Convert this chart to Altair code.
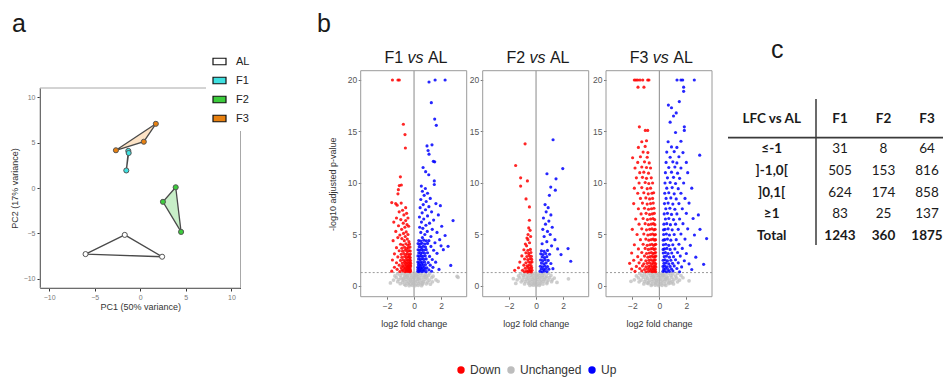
import altair as alt
import pandas as pd

FONT = "Liberation Sans"
TFONT = "Lato"
W, H = 935, 371

# ---------------- panel a : PCA ----------------
PCA_GROUP = ["AL", "AL", "AL", "F1", "F1", "F1", "F2", "F2", "F2", "F3", "F3", "F3"]
PCA_PC1 = [-1.7, -6.0, 2.4, -1.31, -1.27, -1.53, 3.89, 2.49, 4.48, 1.71, 0.39, -2.67]
PCA_PC2 = [-5.16, -7.27, -7.56, 4.08, 3.85, 1.93, 0.08, -1.52, -4.83, 7.06, 5.09, 4.15]
GROUPS = ["AL", "F1", "F2", "F3"]
GROUP_FILL = ["#ffffff", "#3fe0e0", "#3ccc3c", "#e8800f"]
HULL_FILL = ["#ffffff", "#c8f4f4", "#c8efc8", "#fde3c6"]
HULL_OPACITY = [0, 1, 1, 1]

# ---------------- panel b : volcano plots ----------------
STATUS = ["Down", "Unchanged", "Up"]
STATUS_COLORS = ["#ff0000", "#bdbdbd", "#0000ff"]

F1_DOWN = [(-1.60, 20.0), (-1.19, 20.0), (-1.09, 20.0), (-0.79, 15.7), (-0.67, 14.7), (-0.64, 13.4), (-1.01, 10.6),
           (-1.09, 9.75), (-0.94, 9.8), (-1.16, 9.35), (-1.19, 8.95), (-1.65, 8.1), (-1.36, 8.0),
           (-1.25, 7.85), (-0.95, 8.05), (-0.62, 7.6), (-0.85, 7.35), (-1.1, 7.2), (-0.55, 7.05), (-0.75, 6.9),
           (-1.3, 6.6), (-0.98, 6.45), (-0.62, 6.35), (-0.45, 6.6), (-1.5, 6.2), (-0.8, 6.1), (-0.52, 5.95),
           (-1.15, 5.85), (-0.68, 5.7), (-0.4, 5.8), (-0.92, 5.5), (-1.35, 5.3), (-0.58, 5.25), (-0.78, 5.1),
           (-1.05, 4.95), (-0.45, 5.0), (-0.65, 4.8), (-1.2, 4.7), (-0.9, 4.6), (-0.5, 4.55), (-1.55, 4.4),
           (-0.72, 4.4), (-0.38, 4.3),
           (-1.0, 4.05), (-0.82, 3.98), (-0.6, 4.1), (-0.45, 3.95), (-0.33, 4.08),
           (-1.3, 3.72), (-0.9, 3.66), (-0.7, 3.75), (-0.55, 3.62), (-0.42, 3.7), (-0.3, 3.78),
           (-1.1, 3.42), (-0.85, 3.38), (-0.65, 3.47), (-0.5, 3.35), (-0.38, 3.44), (-0.28, 3.4),
           (-1.45, 3.12), (-0.95, 3.08), (-0.75, 3.15), (-0.6, 3.05), (-0.48, 3.12), (-0.35, 3.02), (-0.27, 3.1),
           (-1.2, 2.82), (-0.9, 2.78), (-0.7, 2.86), (-0.57, 2.75), (-0.45, 2.84), (-0.36, 2.8), (-0.28, 2.76),
           (-1.6, 2.52), (-1.0, 2.48), (-0.8, 2.55), (-0.65, 2.46), (-0.52, 2.53), (-0.42, 2.49), (-0.33, 2.56), (-0.26, 2.47),
           (-1.3, 2.26), (-0.88, 2.22), (-0.72, 2.3), (-0.6, 2.2), (-0.5, 2.27), (-0.4, 2.23), (-0.31, 2.29), (-0.25, 2.21),
           (-1.1, 2.02), (-0.85, 1.98), (-0.68, 2.05), (-0.55, 1.96), (-0.46, 2.03), (-0.38, 1.99), (-0.3, 2.06), (-0.25, 1.95),
           (-1.45, 1.82), (-0.95, 1.78), (-0.78, 1.84), (-0.64, 1.76), (-0.53, 1.83), (-0.44, 1.79), (-0.36, 1.85), (-0.29, 1.77),
           (-1.25, 1.62), (-0.9, 1.58), (-0.72, 1.64), (-0.6, 1.56), (-0.5, 1.63), (-0.41, 1.59), (-0.33, 1.65), (-0.27, 1.57),
           (-1.65, 1.44), (-1.05, 1.4), (-0.82, 1.46), (-0.67, 1.38), (-0.55, 1.45), (-0.46, 1.41), (-0.38, 1.47),
           (-0.31, 1.39), (-0.26, 1.44)]
F1_UP = [(1.11, 19.8), (1.56, 20.0), (2.30, 20.0), (1.28, 17.8), (1.53, 16.2), (1.65, 15.6), (0.96, 13.6), (1.33, 13.7),
         (1.04, 13.15), (1.11, 12.8), (1.53, 12.05), (1.43, 12.1), (0.67, 11.5), (0.86, 11.1), (1.09, 10.8), (1.5, 10.2),
         (1.5, 9.85), (0.54, 9.7), (0.84, 9.46), (2.89, 6.35), (1.95, 7.8), (2.72, 2.0), (2.52, 3.85), (2.17, 3.53),
         (0.62, 9.2), (1.0, 9.0), (0.75, 8.8), (1.2, 8.5), (0.5, 8.4), (0.9, 8.2), (1.62, 8.0), (0.68, 7.9), (1.1, 7.7),
         (0.45, 7.6), (0.85, 7.4), (1.3, 7.2), (0.6, 7.1), (1.8, 6.9), (1.0, 6.8), (0.4, 6.7), (0.72, 6.5), (1.45, 6.4),
         (0.55, 6.2), (1.15, 6.1), (0.88, 5.9), (2.05, 5.8), (0.42, 5.7), (0.65, 5.6), (1.35, 5.5), (1.7, 5.2),
         (0.98, 5.3), (0.5, 5.2), (2.3, 4.9), (0.8, 5.0), (1.25, 4.8), (1.9, 4.5), (0.62, 4.7), (1.55, 4.2), (2.0, 3.9),
         (1.1, 4.4),
         (0.35, 4.42), (0.5, 4.36), (0.72, 4.45), (0.9, 4.38),
         (0.3, 4.12), (0.45, 4.06), (0.6, 4.15), (0.8, 4.08), (1.0, 4.13),
         (0.38, 3.82), (0.52, 3.76), (0.68, 3.85), (0.85, 3.78), (1.25, 3.84),
         (0.3, 3.52), (0.43, 3.46), (0.57, 3.55), (0.72, 3.48), (0.9, 3.53), (1.45, 3.47),
         (0.35, 3.22), (0.48, 3.16), (0.62, 3.25), (0.78, 3.18), (1.0, 3.23), (1.7, 3.17),
         (0.29, 2.92), (0.4, 2.86), (0.53, 2.95), (0.67, 2.88), (0.83, 2.93), (1.15, 2.87),
         (0.33, 2.62), (0.45, 2.56), (0.58, 2.65), (0.72, 2.58), (0.9, 2.63), (1.35, 2.57),
         (0.28, 2.32), (0.38, 2.26), (0.5, 2.35), (0.63, 2.28), (0.78, 2.33), (1.05, 2.27), (1.6, 2.31),
         (0.32, 2.07), (0.43, 2.01), (0.55, 2.1), (0.68, 2.03), (0.85, 2.08), (1.2, 2.02),
         (0.28, 1.82), (0.37, 1.76), (0.48, 1.85), (0.6, 1.78), (0.75, 1.83), (0.95, 1.77), (1.4, 1.81),
         (0.3, 1.62), (0.41, 1.56), (0.52, 1.65), (0.65, 1.58), (0.82, 1.63), (1.1, 1.57), (1.85, 1.61),
         (0.28, 1.44), (0.36, 1.38), (0.46, 1.47), (0.58, 1.4), (0.72, 1.45), (0.9, 1.39), (1.3, 1.43)]
F1_NS = [(-1.22, 1.18), (-0.88, 1.22), (-0.62, 1.15), (-0.36, 1.24), (-0.14, 1.17), (0.1, 1.23), (0.31, 1.16), (0.56, 1.21),
         (0.84, 1.14), (1.16, 1.2), (-1.42, 0.98), (-1.02, 1.04), (-0.71, 0.97), (-0.47, 1.05), (-0.22, 0.99), (0.04, 1.02),
         (0.24, 0.96), (0.49, 1.04), (0.76, 0.98), (1.06, 1.03), (1.41, 0.95), (-1.31, 0.82), (-0.97, 0.78), (-0.66, 0.84),
         (-0.41, 0.77), (-0.19, 0.83), (0.01, 0.79), (0.21, 0.85), (0.43, 0.78), (0.69, 0.83), (0.96, 0.77), (1.31, 0.81),
         (-1.52, 0.58), (-1.12, 0.63), (-0.81, 0.57), (-0.56, 0.62), (-0.31, 0.59), (-0.09, 0.64), (0.11, 0.58), (0.31, 0.63),
         (0.56, 0.57), (0.81, 0.62), (1.12, 0.56), (1.62, 0.6), (-1.21, 0.42), (-0.86, 0.38), (-0.61, 0.43), (-0.39, 0.37),
         (-0.16, 0.41), (0.06, 0.39), (0.26, 0.44), (0.46, 0.36), (0.71, 0.42), (1.01, 0.38), (1.36, 0.41), (-1.02, 0.22),
         (-0.71, 0.18), (-0.46, 0.23), (-0.26, 0.17), (-0.06, 0.21), (0.16, 0.19), (0.36, 0.24), (0.61, 0.17), (0.91, 0.21),
         (1.21, 0.18), (-0.62, 0.06), (-0.36, 0.03), (-0.13, 0.07), (0.09, 0.04), (0.31, 0.06), (0.56, 0.03),
         (3.19, 0.94), (3.26, 0.84), (1.78, 0.45), (-1.75, 0.3), (-0.5, 0.9), (0.35, 0.7), (-0.25, 0.5), (0.15, 1.1),
         (-0.05, 0.3), (0.65, 0.3), (-0.8, 0.7), (0.9, 0.9)]

F2_DOWN = [(-0.81, 13.8), (-1.51, 11.7), (-1.14, 10.5), (-1.14, 9.7), (-0.64, 10.2), (-0.74, 8.45), (-0.49, 7.68),
           (-0.49, 6.38), (-0.54, 5.64), (-0.44, 5.4), (-0.59, 5.0), (-0.67, 4.66), (-0.79, 4.08), (-0.48, 4.2),
           (-1.58, 1.52), (-0.6, 4.5), (-0.4, 4.8), (-0.7, 3.9),
           (-0.9, 3.52), (-0.6, 3.46), (-0.42, 3.55), (-0.75, 3.22), (-0.55, 3.16), (-0.38, 3.25),
           (-1.05, 2.92), (-0.68, 2.86), (-0.5, 2.95), (-0.35, 2.88), (-0.85, 2.62), (-0.62, 2.56), (-0.45, 2.65),
           (-0.32, 2.58), (-1.2, 2.32), (-0.75, 2.26), (-0.55, 2.35), (-0.4, 2.28), (-0.3, 2.33),
           (-0.9, 2.02), (-0.66, 1.96), (-0.5, 2.05), (-0.37, 1.98), (-1.3, 1.77), (-0.8, 1.72), (-0.6, 1.8),
           (-0.45, 1.73), (-0.32, 1.78), (-1.0, 1.52), (-0.7, 1.47), (-0.52, 1.55), (-0.4, 1.48), (-0.3, 1.53),
           (-0.85, 1.38), (-0.62, 1.35), (-0.47, 1.4), (-0.35, 1.36)]
F2_UP = [(1.26, 14.2), (1.98, 11.4), (0.81, 10.9), (1.48, 10.4), (1.09, 9.6), (1.43, 9.3), (0.99, 8.8), (0.67, 7.9),
         (0.9, 7.6), (2.37, 3.63), (2.57, 2.4), (1.85, 3.05), (0.75, 7.2), (1.1, 6.9), (0.55, 6.6), (0.95, 6.3),
         (0.7, 6.0), (1.2, 5.7), (0.5, 5.5), (0.85, 5.3), (1.05, 5.0), (0.6, 4.8), (1.4, 4.5), (0.8, 4.3), (0.45, 4.1),
         (1.6, 3.6), (1.15, 3.9),
         (0.4, 3.42), (0.6, 3.36), (0.85, 3.45), (0.35, 3.12), (0.52, 3.06), (0.72, 3.15), (1.0, 3.08),
         (0.45, 2.82), (0.62, 2.76), (0.8, 2.85), (0.33, 2.52), (0.5, 2.46), (0.68, 2.55), (0.9, 2.48),
         (0.4, 2.22), (0.58, 2.16), (0.75, 2.25), (1.1, 2.18), (0.32, 1.92), (0.48, 1.86), (0.65, 1.95), (0.85, 1.88),
         (0.38, 1.67), (0.55, 1.62), (0.72, 1.7), (0.95, 1.63), (1.25, 1.68), (0.3, 1.44), (0.45, 1.38), (0.62, 1.46),
         (0.8, 1.4)]
F2_NS = [(-1.15, 1.2), (-0.82, 1.16), (-0.55, 1.23), (-0.3, 1.17), (-0.1, 1.22), (0.12, 1.15), (0.35, 1.21), (0.6, 1.18),
         (0.9, 1.24), (-1.3, 0.97), (-0.95, 1.02), (-0.66, 0.96), (-0.42, 1.04), (-0.2, 0.98), (0.03, 1.03), (0.25, 0.97),
         (0.5, 1.01), (0.78, 0.95), (1.1, 1.02), (-1.2, 0.78), (-0.9, 0.83), (-0.6, 0.77), (-0.37, 0.82), (-0.15, 0.76),
         (0.05, 0.81), (0.27, 0.79), (0.48, 0.84), (0.72, 0.78), (1.0, 0.82), (1.35, 0.77), (-1.4, 0.6), (-1.0, 0.57),
         (-0.72, 0.62), (-0.48, 0.56), (-0.25, 0.61), (-0.05, 0.58), (0.15, 0.63), (0.38, 0.57), (0.62, 0.61), (0.9, 0.56),
         (1.2, 0.6), (-1.1, 0.4), (-0.78, 0.43), (-0.52, 0.38), (-0.3, 0.42), (-0.1, 0.37), (0.1, 0.41), (0.32, 0.39),
         (0.55, 0.44), (0.82, 0.38), (1.15, 0.42), (-0.85, 0.2), (-0.55, 0.23), (-0.32, 0.18), (-0.12, 0.22), (0.08, 0.17),
         (0.3, 0.21), (0.52, 0.19), (0.8, 0.23), (-0.45, 0.05), (-0.2, 0.08), (0.02, 0.04), (0.25, 0.07),
         (-1.68, 0.71), (2.4, 0.7), (1.55, 0.35), (-1.5, 0.25)]

F3_DOWN = [(-1.85, 20.0), (-1.73, 20.0), (-1.6, 20.0), (-1.43, 20.0), (-1.23, 20.0), (-0.86, 20.0), (-0.77, 20.0),
           (-1.58, 19.3), (-1.14, 19.3), (-1.48, 15.45), (-1.04, 15.1), (-0.86, 15.1),
           (-1.3, 14.0), (-0.95, 14.1), (-1.55, 13.45), (-1.05, 13.55), (-1.2, 13.0), (-0.85, 12.95), (-1.98, 12.45),
           (-1.4, 12.55), (-0.9, 12.5), (-1.6, 12.0), (-1.1, 12.05), (-0.75, 11.95), (-1.8, 11.45), (-1.3, 11.55),
           (-0.95, 11.5), (-0.65, 11.45), (-1.45, 11.0), (-1.15, 11.05), (-0.8, 10.95), (-1.7, 10.5), (-1.25, 10.55),
           (-0.95, 10.45), (-0.6, 10.5), (-1.5, 10.0), (-1.05, 10.05), (-0.78, 9.95), (-0.5, 10.0), (-1.85, 9.5),
           (-1.3, 9.55), (-0.9, 9.45), (-0.65, 9.5), (-1.6, 9.0), (-1.15, 9.05), (-0.82, 8.95), (-0.55, 9.0),
           (-0.42, 9.05), (-1.4, 8.5), (-1.0, 8.55), (-0.72, 8.45), (-0.5, 8.5), (-1.9, 8.0), (-1.25, 8.05), (-0.9, 7.95),
           (-0.65, 8.0), (-0.45, 8.05), (-1.55, 7.5), (-1.1, 7.55), (-0.8, 7.45), (-0.58, 7.5), (-0.4, 7.55),
           (-1.35, 7.0), (-0.98, 7.05), (-0.72, 6.95), (-0.52, 7.0), (-0.37, 7.05), (-1.75, 6.5), (-1.2, 6.55),
           (-0.88, 6.45), (-0.65, 6.5), (-0.47, 6.55), (-0.35, 6.45), (-1.5, 6.0), (-1.05, 6.05), (-0.8, 5.95),
           (-0.6, 6.0), (-0.44, 6.05), (-0.33, 5.95),
           (-2.0, 5.5), (-1.3, 5.55), (-0.95, 5.45), (-0.72, 5.5), (-0.55, 5.55), (-0.4, 5.45), (-0.31, 5.5),
           (-1.65, 5.0), (-1.15, 5.05), (-0.85, 4.95), (-0.66, 5.0), (-0.5, 5.05), (-0.37, 4.95), (-0.29, 5.0),
           (-1.4, 4.5), (-1.0, 4.55), (-0.78, 4.45), (-0.6, 4.5), (-0.46, 4.55), (-0.35, 4.45), (-0.28, 4.5),
           (-1.85, 4.0), (-1.2, 4.05), (-0.9, 3.95), (-0.7, 4.0), (-0.55, 4.05), (-0.42, 3.95), (-0.32, 4.0), (-0.27, 4.05),
           (-1.55, 3.6), (-1.05, 3.65), (-0.82, 3.55), (-0.64, 3.6), (-0.5, 3.65), (-0.39, 3.55), (-0.3, 3.6),
           (-2.05, 3.2), (-1.3, 3.25), (-0.95, 3.15), (-0.75, 3.2), (-0.59, 3.25), (-0.46, 3.15), (-0.36, 3.2), (-0.28, 3.25),
           (-1.6, 2.85), (-1.1, 2.9), (-0.85, 2.8), (-0.68, 2.85), (-0.54, 2.9), (-0.42, 2.8), (-0.33, 2.85), (-0.26, 2.9),
           (-1.9, 2.5), (-1.35, 2.55), (-1.0, 2.45), (-0.78, 2.5), (-0.62, 2.55), (-0.49, 2.45), (-0.38, 2.5), (-0.3, 2.55),
           (-2.2, 2.2), (-1.5, 2.25), (-1.15, 2.15), (-0.9, 2.2), (-0.72, 2.25), (-0.57, 2.15), (-0.45, 2.2), (-0.35, 2.25),
           (-0.27, 2.15), (-1.7, 1.9), (-1.25, 1.95), (-1.0, 1.85), (-0.8, 1.9), (-0.65, 1.95), (-0.52, 1.85), (-0.41, 1.9),
           (-0.32, 1.95), (-0.26, 1.85), (-2.05, 1.65), (-1.45, 1.7), (-1.1, 1.6), (-0.88, 1.65), (-0.72, 1.7), (-0.58, 1.6),
           (-0.47, 1.65), (-0.37, 1.7), (-0.29, 1.6), (-1.8, 1.42), (-1.3, 1.46), (-1.0, 1.38), (-0.8, 1.42), (-0.66, 1.46),
           (-0.53, 1.38), (-0.43, 1.42), (-0.34, 1.46), (-0.27, 1.38)]
F3_UP = [(1.31, 20.0), (1.6, 20.0), (1.73, 20.0), (2.59, 20.0), (1.8, 19.3), (1.8, 18.9), (1.48, 17.9), (0.67, 17.56),
         (0.9, 17.3), (1.25, 16.8), (1.05, 16.5), (0.8, 15.9), (1.85, 15.45), (1.85, 15.1), (1.2, 14.9), (2.99, 12.7),
         (2.89, 6.9), (3.01, 5.5), (3.5, 4.6), (3.28, 2.1),
         (0.65, 14.0), (1.6, 14.05), (0.9, 13.5), (1.3, 13.45), (0.55, 13.0), (1.1, 13.05), (1.75, 12.95), (0.8, 12.5),
         (1.45, 12.55), (0.5, 12.0), (1.0, 12.05), (1.3, 11.95), (2.0, 12.0), (0.7, 11.5), (1.15, 11.55), (1.6, 11.45),
         (0.45, 11.0), (0.9, 11.05), (1.35, 10.95), (2.1, 11.0), (0.6, 10.5), (1.05, 10.55), (1.5, 10.45), (0.42, 10.0),
         (0.8, 10.05), (1.2, 9.95), (1.8, 10.0), (0.55, 9.5), (0.95, 9.55), (1.4, 9.45), (2.4, 9.5), (0.4, 9.0),
         (0.7, 9.05), (1.1, 8.95), (1.6, 9.0), (0.5, 8.5), (0.85, 8.55), (1.25, 8.45), (1.9, 8.5), (0.38, 8.0),
         (0.65, 8.05), (1.0, 7.95), (1.45, 8.0), (2.2, 8.05), (0.48, 7.5), (0.78, 7.55), (1.15, 7.45), (1.7, 7.5),
         (0.36, 7.0), (0.6, 7.05), (0.9, 6.95), (1.3, 7.0), (2.0, 7.05), (0.45, 6.5), (0.7, 6.55), (1.05, 6.45),
         (1.5, 6.5), (2.5, 6.55), (0.34, 6.0), (0.55, 6.05), (0.82, 5.95), (1.2, 6.0), (1.75, 6.05),
         (0.42, 5.5), (0.65, 5.55), (0.95, 5.45), (1.4, 5.5), (2.1, 5.55), (0.31, 5.45),
         (0.32, 5.0), (0.52, 5.05), (0.75, 4.95), (1.1, 5.0), (1.6, 5.05), (2.6, 4.95),
         (0.4, 4.5), (0.6, 4.55), (0.85, 4.45), (1.25, 4.5), (1.9, 4.55), (0.29, 4.45),
         (0.3, 4.0), (0.48, 4.05), (0.7, 3.95), (1.0, 4.0), (1.45, 4.05), (2.3, 3.95),
         (0.38, 3.6), (0.56, 3.65), (0.8, 3.55), (1.15, 3.6), (1.7, 3.65), (0.28, 3.55),
         (0.29, 3.2), (0.45, 3.25), (0.65, 3.15), (0.92, 3.2), (1.35, 3.25), (2.0, 3.15),
         (0.36, 2.85), (0.53, 2.9), (0.75, 2.8), (1.05, 2.85), (1.55, 2.9), (2.7, 2.8),
         (0.28, 2.5), (0.42, 2.55), (0.6, 2.45), (0.85, 2.5), (1.2, 2.55), (1.85, 2.45),
         (0.34, 2.2), (0.5, 2.25), (0.7, 2.15), (0.98, 2.2), (1.4, 2.25), (2.2, 2.15),
         (0.27, 1.9), (0.4, 1.95), (0.57, 1.85), (0.8, 1.9), (1.1, 1.95), (1.65, 1.85),
         (0.32, 1.65), (0.46, 1.7), (0.65, 1.6), (0.9, 1.65), (1.3, 1.7), (2.4, 1.6),
         (0.27, 1.42), (0.38, 1.46), (0.53, 1.38), (0.74, 1.42), (1.0, 1.46), (1.5, 1.38)]
F3_NS = [(-1.45, 1.2), (-1.1, 1.16), (-0.78, 1.23), (-0.5, 1.17), (-0.25, 1.22), (-0.05, 1.15), (0.18, 1.21), (0.42, 1.18),
         (0.7, 1.24), (1.0, 1.17), (1.35, 1.22), (-1.7, 0.97), (-1.3, 1.02), (-0.95, 0.96), (-0.66, 1.04), (-0.4, 0.98),
         (-0.16, 1.03), (0.06, 0.97), (0.3, 1.01), (0.56, 0.95), (0.85, 1.02), (1.2, 0.96), (1.6, 1.01), (-1.55, 0.78),
         (-1.18, 0.83), (-0.86, 0.77), (-0.58, 0.82), (-0.33, 0.76), (-0.1, 0.81), (0.12, 0.79), (0.36, 0.84), (0.62, 0.78),
         (0.92, 0.82), (1.28, 0.77), (1.75, 0.8), (-1.85, 0.6), (-1.35, 0.57), (-1.0, 0.62), (-0.72, 0.56), (-0.46, 0.61),
         (-0.22, 0.58), (0.0, 0.63), (0.22, 0.57), (0.47, 0.61), (0.75, 0.56), (1.08, 0.6), (1.5, 0.58), (-1.5, 0.4),
         (-1.1, 0.43), (-0.8, 0.38), (-0.54, 0.42), (-0.3, 0.37), (-0.08, 0.41), (0.14, 0.39), (0.38, 0.44), (0.64, 0.38),
         (0.95, 0.42), (1.35, 0.4), (-1.15, 0.2), (-0.82, 0.23), (-0.55, 0.18), (-0.3, 0.22), (-0.08, 0.17), (0.15, 0.21),
         (0.4, 0.19), (0.7, 0.23), (1.05, 0.2), (-0.6, 0.05), (-0.3, 0.08), (-0.05, 0.04), (0.2, 0.07), (0.48, 0.05),
         (-0.45, 0.9), (0.5, 0.7), (-0.2, 0.5), (0.25, 1.1), (-0.9, 0.3), (0.85, 0.3), (2.2, 0.5), (-2.1, 0.45)]

THRESHOLD = 1.301

# ---------------- panel c : table ----------------
TABLE_HEADER = "LFC vs AL"
TABLE_ROWS = ["≤-1", "]-1,0[", "]0,1[", "≥1", "Total"]
TABLE_COLS = ["F1", "F2", "F3"]
F1_COUNTS = [31, 505, 624, 83, 1243]
F2_COUNTS = [8, 153, 174, 25, 360]
F3_COUNTS = [64, 816, 858, 137, 1875]


# ======================= build (flat layer, every layer with explicit scales) =======================
def pca_layers():
    df = pd.DataFrame({"group": PCA_GROUP, "pc1": PCA_PC1, "pc2": PCA_PC2})
    xs = alt.Scale(domain=[-11, 11], range=[32, 232.5], nice=False, zero=False)
    ys = alt.Scale(domain=[-11, 11], range=[280, 80], nice=False, zero=False)
    frame_df = pd.DataFrame({"x0": [-11], "x1": [11], "y0": [-11], "y1": [11]})
    frame = alt.Chart(frame_df).mark_rect(fillOpacity=0, stroke="#a8a8a8", strokeWidth=1).encode(
        x=alt.X("x0:Q", scale=xs, axis=None), x2="x1:Q",
        y=alt.Y("y0:Q", scale=ys, axis=None), y2="y1:Q")
    layers = [frame]
    for g, fc, fo in zip(GROUPS, HULL_FILL, HULL_OPACITY):
        sub = df[df.group == g]
        hull = pd.concat([sub, sub.iloc[[0]]], ignore_index=True)
        hull["ord"] = range(len(hull))
        layers.append(
            alt.Chart(hull).mark_line(fill=fc, fillOpacity=fo, stroke="#4a4a4a", strokeWidth=1.3).encode(
                x=alt.X("pc1:Q", scale=xs, axis=None),
                y=alt.Y("pc2:Q", scale=ys, axis=None),
                order="ord:Q"))
    ax_common = dict(grid=False, domainColor="#333333", domainWidth=1, tickColor="#333333", tickSize=3,
                     labelFont=FONT, labelFontSize=7, labelColor="#7a7a7a", titleFont=FONT, titleFontSize=9,
                     titleFontWeight="normal", titleColor="#333333")
    pts = alt.Chart(df).mark_circle(size=26, stroke="#555555", strokeWidth=1, opacity=1).encode(
        x=alt.X("pc1:Q", scale=xs, axis=alt.Axis(orient="bottom", offset=280 - H, values=[-10, -5, 0, 5, 10],
                                                  labelPadding=2, title="PC1 (50% variance)", titlePadding=2,
                                                  **ax_common)),
        y=alt.Y("pc2:Q", scale=ys, axis=alt.Axis(orient="left", offset=-32, values=[-10, -5, 0, 5, 10],
                                                 labelPadding=2, title="PC2 (17% variance)", titlePadding=4,
                                                 **ax_common)),
        fill=alt.Fill("group:N", scale=alt.Scale(domain=GROUPS, range=GROUP_FILL),
                      legend=alt.Legend(orient="none", legendX=198, legendY=40, title=None, direction="vertical",
                                        symbolType="M-1,-0.5H1V0.5H-1Z", symbolSize=169, symbolStrokeColor="#111111",
                                        symbolStrokeWidth=1.2, symbolOpacity=1, labelFont=FONT, labelFontSize=11,
                                        labelColor="#222222", labelOffset=9, rowPadding=5, padding=6,
                                        fillColor="white")))
    layers.append(pts)
    return layers


def volcano_layers(down, ns, up, x_range, first):
    xdom = [-3.95, 3.9]
    ydom = [-1.04, 20.9]
    yrange = [288.7, 62.7]
    rows = []
    for status, pts in (("Unchanged", ns), ("Down", down), ("Up", up)):
        for x, y in pts:
            rows.append({"lfc": x, "padj": y, "status": status})
    df = pd.DataFrame(rows)
    xs = alt.Scale(domain=xdom, range=x_range, nice=False, zero=False)
    ys = alt.Scale(domain=ydom, range=yrange, nice=False, zero=False)
    ax_common = dict(grid=False, domain=False, tickColor="#777777", tickSize=2.5, labelFont=FONT,
                     labelFontSize=8.5, labelColor="#555555", titleFont=FONT, titleFontSize=9,
                     titleFontWeight="normal", titleColor="#333333")
    legend = None
    if first:
        legend = alt.Legend(orient="none", legendX=447, legendY=356, direction="horizontal", title=None,
                            symbolType="circle", symbolSize=55, symbolOpacity=1, symbolStrokeWidth=0,
                            labelFont=FONT, labelFontSize=12, labelColor="#333333", labelOffset=3,
                            columnPadding=4, padding=0)
    frame_df = pd.DataFrame({"x0": [xdom[0]], "x1": [xdom[1]], "y0": [ydom[0]], "y1": [ydom[1]],
                             "zero": [0.0], "thr": [THRESHOLD]})
    vline = alt.Chart(frame_df).mark_rule(color="#8a8a8a", strokeWidth=1).encode(
        x=alt.X("zero:Q", scale=xs, axis=None),
        y=alt.Y("y0:Q", scale=ys, axis=None), y2="y1:Q")
    hline = alt.Chart(frame_df).mark_rule(color="#9a9a9a", strokeWidth=1, strokeDash=[2, 2]).encode(
        y=alt.Y("thr:Q", scale=ys, axis=None),
        x=alt.X("x0:Q", scale=xs, axis=None), x2="x1:Q")
    ns_df = df[df.status == "Unchanged"]
    sig_df = df[df.status != "Unchanged"]
    cscale = alt.Scale(domain=STATUS, range=STATUS_COLORS)
    # the legend sits on the first colour layer (grey points of panel F1)
    grey = alt.Chart(ns_df).mark_circle(size=14, opacity=0.75).encode(
        x=alt.X("lfc:Q", scale=xs, axis=None),
        y=alt.Y("padj:Q", scale=ys, axis=None),
        color=alt.Color("status:N", scale=cscale, legend=legend))
    pts = alt.Chart(sig_df).mark_circle(size=10, opacity=0.85).encode(
        x=alt.X("lfc:Q", scale=xs, axis=alt.Axis(orient="bottom", offset=yrange[0] - H, values=[-2, 0, 2],
                                                 labelPadding=2.5, title="log2 fold change", titlePadding=9,
                                                 **ax_common)),
        y=alt.Y("padj:Q", scale=ys, axis=alt.Axis(orient="left", offset=-x_range[0], values=[0, 5, 10, 15, 20],
                                                  labelPadding=1.5,
                                                  title="-log10 adjusted p-value" if first else "",
                                                  titlePadding=10, **ax_common)),
        color=alt.Color("status:N", scale=cscale, legend=legend))
    frame = alt.Chart(frame_df).mark_rect(fillOpacity=0, stroke="#9a9a9a", strokeWidth=1).encode(
        x=alt.X("x0:Q", scale=xs, axis=None), x2="x1:Q",
        y=alt.Y("y0:Q", scale=ys, axis=None), y2="y1:Q")
    return [vline, hline, grey, pts, frame]


def title_layers(name, cx):
    d = pd.DataFrame({"a": [name], "b": ["vs"], "c": ["AL"]})
    base = alt.Chart(d)
    common = dict(font=FONT, fontSize=16, color="#1a1a1a", baseline="alphabetic")
    return [
        base.mark_text(align="right", **common).encode(text="a:N", x=alt.value(cx - 12.9), y=alt.value(54.7)),
        base.mark_text(align="center", fontStyle="italic", **common).encode(text="b:N", x=alt.value(cx - 0.45),
                                                                           y=alt.value(54.7)),
        base.mark_text(align="left", **common).encode(text="c:N", x=alt.value(cx + 11.95), y=alt.value(54.7)),
    ]


def table_layers():
    rows = []
    for col, counts in zip(TABLE_COLS, (F1_COUNTS, F2_COUNTS, F3_COUNTS)):
        for r, n in zip(TABLE_ROWS, counts):
            rows.append({"row": r, "col": col, "n": str(n), "total": r == "Total"})
    df = pd.DataFrame(rows)
    xs = alt.Scale(type="point", domain=TABLE_COLS, range=[832, 919], padding=0)
    ys = alt.Scale(type="point", domain=TABLE_ROWS, range=[141.3, 227.7], padding=0)
    common = dict(font=TFONT, fontSize=13.5, color="#1a1a1a", baseline="middle", align="center")
    one = pd.DataFrame({"k": [0]})
    hr = alt.Chart(one).mark_rule(color="#3a3a3a", strokeWidth=1.8).encode(
        x=alt.value(720), x2=alt.value(W), y=alt.value(129.7))
    vr = alt.Chart(one).mark_rule(color="#3a3a3a", strokeWidth=1.5).encode(
        x=alt.value(808), y=alt.value(91), y2=alt.value(237))
    nums = alt.Chart(df).transform_filter("!datum.total").mark_text(**common).encode(
        x=alt.X("col:N", scale=xs, axis=None), y=alt.Y("row:N", scale=ys, axis=None), text="n:N")
    tots = alt.Chart(df).transform_filter("datum.total").mark_text(fontWeight="bold", **common).encode(
        x=alt.X("col:N", scale=xs, axis=None), y=alt.Y("row:N", scale=ys, axis=None), text="n:N")
    lab_df = pd.DataFrame({"row": TABLE_ROWS})
    labs = alt.Chart(lab_df).mark_text(fontWeight="bold", **common).encode(
        x=alt.value(763.7), y=alt.Y("row:N", scale=ys, axis=None), text="row:N")
    head_df = pd.DataFrame({"col": TABLE_COLS})
    heads = alt.Chart(head_df).mark_text(fontWeight="bold", **common).encode(
        x=alt.X("col:N", scale=xs, axis=None), y=alt.value(111), text="col:N")
    h0 = alt.Chart(pd.DataFrame({"t": [TABLE_HEADER]})).mark_text(fontWeight="bold", **common).encode(
        x=alt.value(763.7), y=alt.value(111), text="t:N")
    return [hr, vr, nums, tots, labs, heads, h0]


def letter(t, x, y):
    return alt.Chart(pd.DataFrame({"t": [t]})).mark_text(
        font=FONT, fontSize=25, color="#1a1a1a", align="left", baseline="alphabetic").encode(
        text="t:N", x=alt.value(x), y=alt.value(y))


all_layers = []
all_layers += pca_layers()
all_layers += volcano_layers(F1_DOWN, F1_NS, F1_UP, [352.7, 458.7], True)
all_layers += volcano_layers(F2_DOWN, F2_NS, F2_UP, [474.7, 580.7], False)
all_layers += volcano_layers(F3_DOWN, F3_NS, F3_UP, [598.0, 704.0], False)
all_layers += title_layers("F1", 408) + title_layers("F2", 530) + title_layers("F3", 653.3)
all_layers += table_layers()
all_layers += [letter("a", 4, 23.7), letter("b", 309, 23.7), letter("c", 763, 50)]

chart = alt.layer(*all_layers).resolve_scale(x="independent", y="independent").properties(
    width=W, height=H, padding=0, autosize=alt.AutoSizeParams(type="none")
).configure_view(stroke=None)

chart.save("out.html", embed_options={"renderer": "svg", "actions": False})
